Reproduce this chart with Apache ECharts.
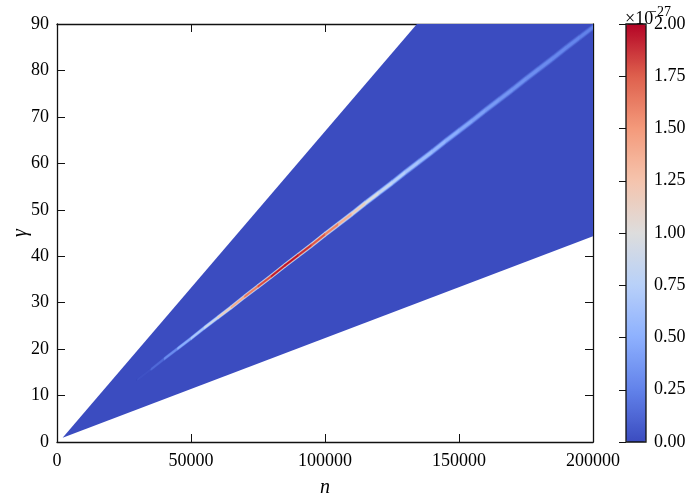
<!DOCTYPE html>
<html><head><meta charset="utf-8">
<script src="https://cdn.jsdelivr.net/npm/echarts@6/dist/echarts.min.js"></script>
<style>html,body{margin:0;padding:0;background:#fff}#c{width:695px;height:500px}</style>
</head><body><div id="c"></div>
<script>
// ---- data ----
const nTicks = [0, 50000, 100000, 150000, 200000];
const gammaTicks = [0, 10, 20, 30, 40, 50, 60, 70, 80, 90];
const colorbarTicks = [0, 0.25, 0.5, 0.75, 1.0, 1.25, 1.5, 1.75, 2.0]; // x1e-27

// filled (value ~0) wedge region: polygon corners (n, gamma)
const wedgeN = [2100, 134300, 200000, 200000];
const wedgeGamma = [0.9, 90, 90, 44.3];

// ridge of the field, sampled along n
const ridgeN = [30000, 35000, 40000, 45000, 50000, 55000, 60000, 65000, 70000, 75000,
  80000, 85000, 90000, 95000, 100000, 105000, 110000, 115000, 120000, 125000,
  130000, 135000, 140000, 145000, 150000, 155000, 160000, 165000, 170000, 175000,
  180000, 185000, 190000, 195000, 200000];
const ridgeGamma = [13.4, 15.6, 17.9, 20.1, 22.3, 24.6, 26.8, 29.0, 31.3, 33.5,
  35.7, 38.0, 40.2, 42.4, 44.7, 46.9, 49.1, 51.4, 53.6, 55.8,
  58.1, 60.3, 62.5, 64.8, 67.0, 69.2, 71.5, 73.7, 75.9, 78.2,
  80.4, 82.6, 84.9, 87.1, 89.3];
const ridgePeak = [0.0, 0.06, 0.22, 0.4, 0.6, 0.8, 1.02, 1.3, 1.55, 1.75,
  1.9, 2.0, 1.95, 1.85, 1.72, 1.5, 1.28, 1.08, 0.9, 0.8,
  0.7, 0.63, 0.57, 0.52, 0.47, 0.43, 0.4, 0.37, 0.35, 0.33,
  0.31, 0.29, 0.28, 0.26, 0.25]; // x1e-27
const ridgeHalfWidth = [0.2, 0.3, 0.36, 0.38, 0.4, 0.42, 0.44, 0.46, 0.48, 0.5,
  0.51, 0.52, 0.54, 0.56, 0.58, 0.6, 0.62, 0.64, 0.66, 0.68,
  0.7, 0.71, 0.72, 0.73, 0.74, 0.75, 0.76, 0.77, 0.78, 0.78,
  0.78, 0.78, 0.77, 0.74, 0.7];
// cross-section of the ridge: relative width of each band and its relative level
const ridgeBandWidth = [1.0, 0.75, 0.5, 0.3];
const ridgeBandLevel = [0.25, 0.55, 0.85, 1.0];

// ---- styles ----
const coolwarm = ['#3b4cc0', '#6282ea', '#8db0fe', '#b8d0f9', '#dddddd', '#f5c4ad', '#f49a7b', '#de604d', '#b40426'];
const FONT = 'Liberation Serif';

const chart = echarts.init(document.getElementById('c'), null, {renderer: 'canvas'});

const series = [];
series.push({
  type: 'custom', xAxisIndex: 0, yAxisIndex: 0, silent: true, clip: true,
  encode: {x: 0, y: 1},
  data: [[wedgeN[0], wedgeGamma[0], 0]],
  renderItem: function (params, api) {
    const pts = wedgeN.map((n, i) => api.coord([n, wedgeGamma[i]]));
    return {type: 'polygon', shape: {points: pts}, style: {fill: api.visual('color')}};
  }
});
ridgeBandWidth.forEach((bw, b) => {
  const data = [];
  for (let i = 0; i < ridgeN.length - 1; i++) {
    const v = (ridgePeak[i] + ridgePeak[i + 1]) / 2 * ridgeBandLevel[b];
    data.push([ridgeN[i], ridgeGamma[i], v, ridgeN[i + 1], ridgeGamma[i + 1], ridgeHalfWidth[i] * bw, ridgeHalfWidth[i + 1] * bw]);
  }
  series.push({
    type: 'custom', xAxisIndex: 0, yAxisIndex: 0, silent: true, clip: true,
    encode: {x: 0, y: 1},
    data: data,
    renderItem: function (params, api) {
      const n0 = api.value(0), g0 = api.value(1), n1 = api.value(3), g1 = api.value(4);
      const w0 = api.value(5), w1 = api.value(6);
      const pts = [api.coord([n0, g0 + w0]), api.coord([n1, g1 + w1]), api.coord([n1, g1 - w1]), api.coord([n0, g0 - w0])];
      const c = api.visual('color');
      return {type: 'polygon', shape: {points: pts}, style: {fill: c, stroke: c, lineWidth: 0.6}};
    }
  });
});

const axisLineStyle = {color: '#111', width: 1.3};
const tickStyle = {color: '#111', width: 1};
const labelStyle = {fontFamily: FONT, fontSize: 18, color: '#000'};

const option = {
  animation: false,
  backgroundColor: '#fff',
  grid: [
    {left: 57, top: 24, right: 102, bottom: 58, show: false, containLabel: false, outerBoundsMode: 'none'},
    {left: 626, top: 24, width: 20, bottom: 58, show: false, containLabel: false, outerBoundsMode: 'none'}
  ],
  xAxis: [
    {type: 'value', gridIndex: 0, position: 'bottom', min: nTicks[0], max: nTicks[nTicks.length - 1], interval: nTicks[1] - nTicks[0],
      name: 'n', nameLocation: 'middle', nameGap: 36,
      nameTextStyle: {fontFamily: FONT, fontSize: 20, fontStyle: 'italic', color: '#000'},
      axisLine: {show: true, onZero: false, lineStyle: axisLineStyle},
      axisTick: {show: true, inside: true, length: 8, lineStyle: tickStyle},
      axisLabel: Object.assign({margin: 10, formatter: v => String(v), hideOverlap: false}, labelStyle),
      splitLine: {show: false}},
    {type: 'value', gridIndex: 0, position: 'top', min: nTicks[0], max: nTicks[nTicks.length - 1], interval: nTicks[1] - nTicks[0],
      axisLine: {show: true, onZero: false, lineStyle: axisLineStyle},
      axisTick: {show: true, inside: true, length: 8, lineStyle: tickStyle},
      axisLabel: {show: false}, splitLine: {show: false}},
    {type: 'value', gridIndex: 1, min: 0, max: 1, show: false}
  ],
  yAxis: [
    {type: 'value', gridIndex: 0, position: 'left', min: gammaTicks[0], max: gammaTicks[gammaTicks.length - 1], interval: gammaTicks[1] - gammaTicks[0],
      axisLine: {show: true, onZero: false, lineStyle: axisLineStyle},
      axisTick: {show: true, inside: true, length: 8, lineStyle: tickStyle},
      axisLabel: Object.assign({margin: 8}, labelStyle),
      splitLine: {show: false}},
    {type: 'value', gridIndex: 0, position: 'right', min: gammaTicks[0], max: gammaTicks[gammaTicks.length - 1], interval: gammaTicks[1] - gammaTicks[0],
      axisLine: {show: true, onZero: false, lineStyle: axisLineStyle},
      axisTick: {show: true, inside: true, length: 8, lineStyle: tickStyle},
      axisLabel: {show: false}, splitLine: {show: false}},
    {type: 'value', gridIndex: 1, position: 'right', z: 10,
      min: colorbarTicks[0], max: colorbarTicks[colorbarTicks.length - 1], interval: colorbarTicks[1] - colorbarTicks[0],
      axisLine: {show: false},
      axisTick: {show: true, inside: true, length: 7, lineStyle: tickStyle},
      axisLabel: Object.assign({margin: 8, formatter: v => v.toFixed(2)}, labelStyle),
      splitLine: {show: false}}
  ],
  visualMap: {
    type: 'continuous', min: colorbarTicks[0], max: colorbarTicks[colorbarTicks.length - 1],
    dimension: 2, seriesIndex: series.map((s, i) => i),
    calculable: false, orient: 'vertical', left: 626, top: 24, itemWidth: 20, itemHeight: 418,
    padding: 0, text: null, inRange: {color: coolwarm}, hoverLink: false
  },
  graphic: [
    {type: 'rect', z: 100, shape: {x: 626, y: 24, width: 20, height: 418}, style: {fill: 'none', stroke: '#111', lineWidth: 1.3}},
    {type: 'text', z: 100, x: 21, y: 233, rotation: Math.PI / 2,
      style: {text: 'γ', fontFamily: FONT, fontSize: 20, fontStyle: 'italic', fill: '#000', align: 'center', verticalAlign: 'middle'}},
    {type: 'text', z: 100, left: 625, top: 10, style: {text: '×10', fontFamily: FONT, fontSize: 18, fill: '#000'}},
    {type: 'text', z: 100, left: 649, top: 5, style: {text: '−27', fontFamily: FONT, fontSize: 14, fill: '#000'}}
  ],
  series: series
};
chart.setOption(option);
</script></body></html>
